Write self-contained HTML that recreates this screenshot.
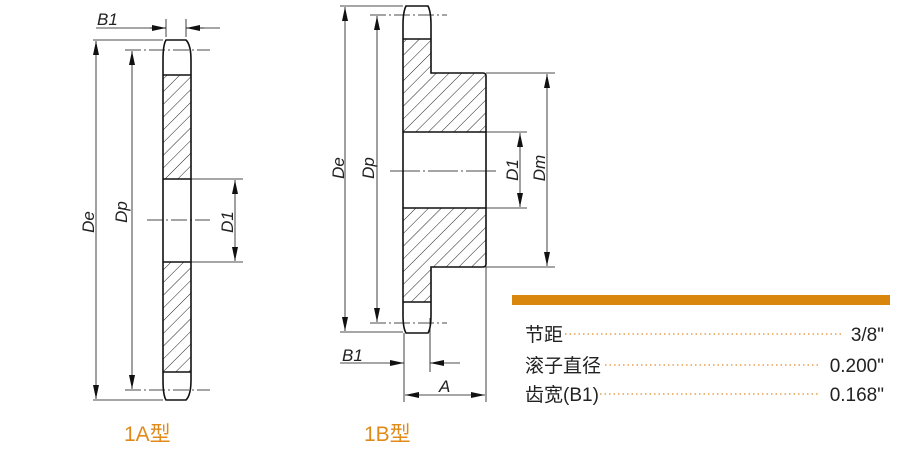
<!DOCTYPE html>
<html><head><meta charset="utf-8"><style>
body{margin:0;background:#fff;}
svg{display:block;}
.t{font-family:"Liberation Sans",sans-serif;font-style:italic;font-size:17px;fill:#222;}
.c{font-family:"Liberation Sans","Noto Sans CJK SC",sans-serif;}
</style></head><body>
<svg width="900" height="450" viewBox="0 0 900 450" xmlns="http://www.w3.org/2000/svg">
<defs>
<pattern id="h" width="9" height="9" patternUnits="userSpaceOnUse" patternTransform="rotate(45)">
<line x1="0" y1="0" x2="0" y2="9" stroke="#222" stroke-width="1"/>
</pattern>
<marker id="a" viewBox="0 0 14 6" refX="14" refY="3" markerWidth="14" markerHeight="6" orient="auto-start-reverse" markerUnits="userSpaceOnUse">
<path d="M0,0 L14,3 L0,6z" fill="#111"/></marker>
</defs>
<g stroke="#111" fill="none">
<!-- 1A -->
<rect x="163" y="75" width="28" height="104" fill="url(#h)" stroke="none"/>
<rect x="163" y="262" width="28" height="110" fill="url(#h)" stroke="none"/>
<path d="M166,40 L186,40 Q191,45 191,60 L191,380 Q191,395 186,400 L166,400 Q163,395 163,380 L163,60 Q163,45 166,40Z" stroke-width="1.6"/>
<path d="M163,75H191M163,179H191M163,262H191M163,372H191" stroke-width="1.4"/>
<g stroke-width="0.8">
<line x1="93" y1="40" x2="163" y2="40"/><line x1="93" y1="400" x2="163" y2="400"/>
<line x1="125" y1="50" x2="210" y2="50" stroke-dasharray="16,3,2,3"/>
<line x1="125" y1="390" x2="210" y2="390" stroke-dasharray="16,3,2,3"/>
<line x1="147" y1="220" x2="210" y2="220" stroke-dasharray="16,3,2,3"/>
<line x1="191" y1="179" x2="243" y2="179"/><line x1="191" y1="262" x2="243" y2="262"/>
<line x1="166" y1="19" x2="166" y2="37"/><line x1="186" y1="19" x2="186" y2="37"/>
<line x1="96" y1="28" x2="166" y2="28"/><line x1="186" y1="28" x2="220" y2="28"/>
<line x1="150" y1="28" x2="166" y2="28" marker-end="url(#a)"/>
<line x1="204" y1="28" x2="186" y2="28" marker-end="url(#a)"/>
<line x1="96" y1="41" x2="96" y2="399" marker-start="url(#a)" marker-end="url(#a)"/>
<line x1="132" y1="51" x2="132" y2="389" marker-start="url(#a)" marker-end="url(#a)"/>
<line x1="235" y1="180" x2="235" y2="261" marker-start="url(#a)" marker-end="url(#a)"/>
</g>
<!-- 1B -->
<path d="M403,39H431V73H486V132H403Z" fill="url(#h)" stroke="none"/>
<path d="M403,208H486V267H431V302H403Z" fill="url(#h)" stroke="none"/>
<path d="M406,6 L428,6 Q431,12 431,25 L431,73 L483,73 Q486,73 486,76 L486,264 Q486,267 483,267 L431,267 L431,315 Q431,328 428,333 L406,333 Q403,328 403,315 L403,25 Q403,12 406,6Z" stroke-width="1.6"/>
<path d="M403,39H431M403,132H486M403,208H486M403,302H431" stroke-width="1.4"/>
<g stroke-width="0.8">
<line x1="340" y1="6" x2="403" y2="6"/><line x1="340" y1="332" x2="403" y2="332"/>
<line x1="370" y1="15" x2="447" y2="15" stroke-dasharray="16,3,2,3"/>
<line x1="370" y1="323" x2="447" y2="323" stroke-dasharray="16,3,2,3"/>
<line x1="390" y1="171" x2="497" y2="171" stroke-dasharray="30,3,2,3"/>
<line x1="486" y1="132" x2="527" y2="132"/><line x1="486" y1="208" x2="527" y2="208"/>
<line x1="486" y1="73" x2="555" y2="73"/><line x1="486" y1="267" x2="555" y2="267"/>
<line x1="345" y1="7" x2="345" y2="331" marker-start="url(#a)" marker-end="url(#a)"/>
<line x1="377" y1="16" x2="377" y2="322" marker-start="url(#a)" marker-end="url(#a)"/>
<line x1="520" y1="133" x2="520" y2="207" marker-start="url(#a)" marker-end="url(#a)"/>
<line x1="547" y1="74" x2="547" y2="266" marker-start="url(#a)" marker-end="url(#a)"/>
<line x1="404" y1="333" x2="404" y2="402"/><line x1="430" y1="318" x2="430" y2="372"/>
<line x1="486" y1="267" x2="486" y2="402"/>
<line x1="340" y1="363" x2="404" y2="363" marker-end="url(#a)"/>
<line x1="460" y1="363" x2="430" y2="363" marker-end="url(#a)"/>
<line x1="405" y1="395" x2="485" y2="395" marker-start="url(#a)" marker-end="url(#a)"/>
</g>
</g>
<g class="t">
<text x="97" y="25">B1</text>
<text x="342" y="361">B1</text>
<text x="439" y="392">A</text>
<text transform="translate(94,222) rotate(-90)" text-anchor="middle">De</text>
<text transform="translate(127,212) rotate(-90)" text-anchor="middle">Dp</text>
<text transform="translate(233,222) rotate(-90)" text-anchor="middle">D1</text>
<text transform="translate(344,168) rotate(-90)" text-anchor="middle">De</text>
<text transform="translate(374,168) rotate(-90)" text-anchor="middle">Dp</text>
<text transform="translate(518,170) rotate(-90)" text-anchor="middle">D1</text>
<text transform="translate(545,168) rotate(-90)" text-anchor="middle">Dm</text>
</g>
<g class="c" fill="#e08a1a" font-size="21">
<text x="124" y="441">1A型</text>
<text x="364" y="441">1B型</text>
</g>
<rect x="512" y="295" width="378" height="10" fill="#d9860f"/>
<g stroke="#e8a050" stroke-width="1.5" stroke-dasharray="1.5,3" fill="none">
<line x1="565" y1="334" x2="842" y2="334"/>
<line x1="605" y1="365" x2="820" y2="365"/>
<line x1="600" y1="394" x2="820" y2="394"/>
</g>
<g class="c" font-size="19" fill="#222">
<text x="525" y="341">节距</text>
<text x="525" y="372">滚子直径</text>
<text x="525" y="401">齿宽(B1)</text>
<g text-anchor="end"><text x="884" y="341">3/8"</text><text x="884" y="372">0.200"</text><text x="884" y="401">0.168"</text></g>
</g>
</svg>
</body></html>
